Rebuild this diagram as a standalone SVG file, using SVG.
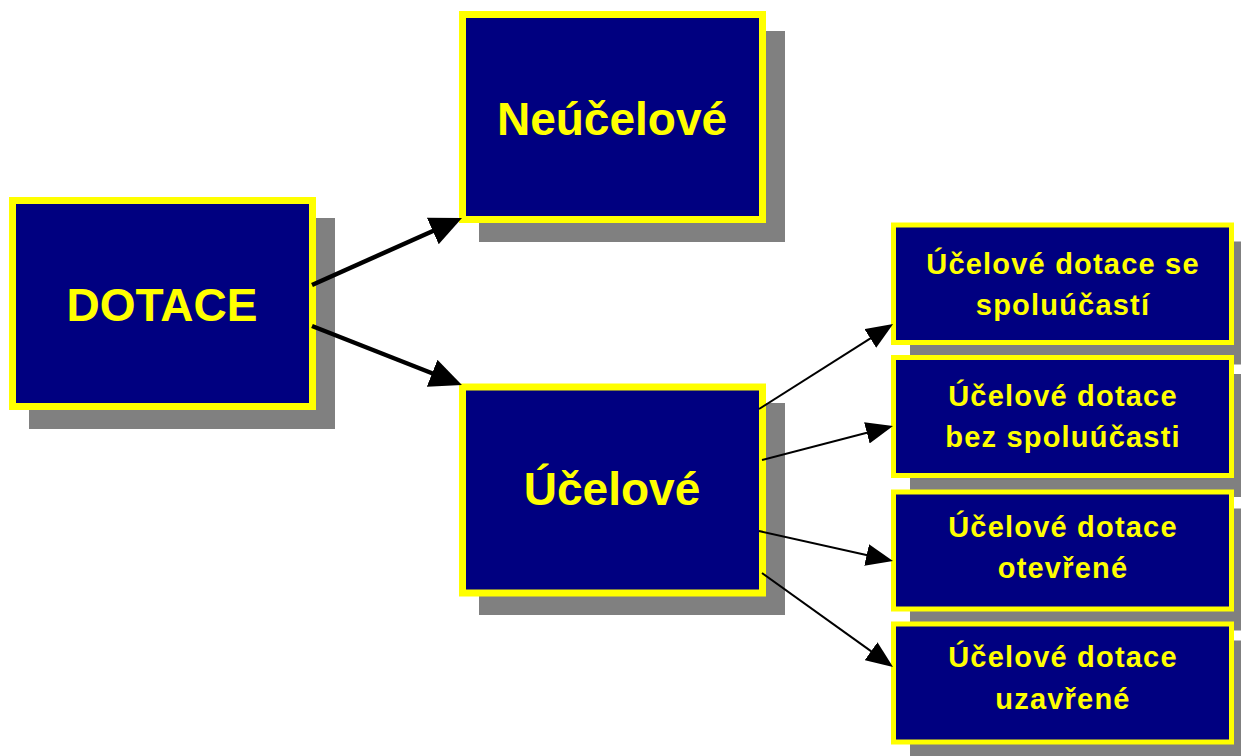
<svg xmlns="http://www.w3.org/2000/svg" width="1241" height="756" viewBox="0 0 1241 756">
  <style>
    .shadow { fill: #808080; }
    .big { fill: #000080; stroke: #FFFF00; stroke-width: 7; }
    .small { fill: #000080; stroke: #FFFF00; stroke-width: 5; }
    .t-big { font-family: "Liberation Sans", Arial, sans-serif; font-weight: bold; font-size: 46px; fill: #FFFF00; text-anchor: middle; }
    .t-small { font-family: "Liberation Sans", Arial, sans-serif; font-weight: bold; font-size: 29px; letter-spacing: 1.2px; fill: #FFFF00; text-anchor: middle; }
    .thick { stroke: #000; stroke-width: 4.5; fill: none; marker-end: url(#headBig); }
    .thin { stroke: #000; stroke-width: 2; fill: none; marker-end: url(#headSmall); }
  </style>
  <defs>
    <marker id="headBig" markerUnits="userSpaceOnUse" viewBox="0 -15 32 30" markerWidth="32" markerHeight="30" refX="2" refY="0" orient="auto">
      <path d="M0,-14.5 L32,0 L0,14.5 z" fill="#000"/>
    </marker>
    <marker id="headSmall" markerUnits="userSpaceOnUse" viewBox="0 -11 27 22" markerWidth="27" markerHeight="22" refX="2" refY="0" orient="auto">
      <path d="M0,-11 L27,0 L0,11 z" fill="#000"/>
    </marker>
  </defs>
  <rect width="1241" height="756" fill="#FFFFFF"/>

  <g id="dotace">
    <rect class="shadow" x="29" y="218" width="306" height="211"/>
    <rect class="big" x="12.5" y="200.5" width="300" height="206"/>
    <text class="t-big" x="162" y="320.5">DOTACE</text>
  </g>

  <g id="neucelove">
    <rect class="shadow" x="479" y="31" width="306" height="211"/>
    <rect class="big" x="462.5" y="14.5" width="300" height="205"/>
    <text class="t-big" x="612" y="135">Neúčelové</text>
  </g>

  <g id="ucelove">
    <rect class="shadow" x="479" y="403" width="306" height="212"/>
    <rect class="big" x="462.5" y="387" width="300" height="206"/>
    <text class="t-big" x="612" y="505">Účelové</text>
  </g>

  <g id="se-spoluucasti">
    <rect class="shadow" x="910" y="241.5" width="343" height="123"/>
    <rect class="small" x="893.5" y="225" width="338" height="117.5"/>
    <text class="t-small" x="1063" y="274.3">Účelové dotace se</text>
    <text class="t-small" x="1063" y="315">spoluúčastí</text>
  </g>

  <g id="bez-spoluucasti">
    <rect class="shadow" x="910" y="374" width="343" height="123"/>
    <rect class="small" x="893.5" y="357.5" width="338" height="118"/>
    <text class="t-small" x="1063" y="405.7">Účelové dotace</text>
    <text class="t-small" x="1063" y="446.7">bez spoluúčasti</text>
  </g>

  <g id="otevrene">
    <rect class="shadow" x="910" y="508.5" width="343" height="122"/>
    <rect class="small" x="893.5" y="492" width="338" height="117"/>
    <text class="t-small" x="1063" y="536.7">Účelové dotace</text>
    <text class="t-small" x="1063" y="578.3">otevřené</text>
  </g>

  <g id="uzavrene">
    <rect class="shadow" x="910" y="640.5" width="343" height="123"/>
    <rect class="small" x="893.5" y="624" width="338" height="118"/>
    <text class="t-small" x="1063" y="666.7">Účelové dotace</text>
    <text class="t-small" x="1063" y="709.3">uzavřené</text>
  </g>

  <g id="connectors">
    <path class="thick" d="M312,285 L434.6,230.2"/>
    <path class="thick" d="M312,326 L434,374"/>
    <path class="thin" d="M759,409 L872,337.4"/>
    <path class="thin" d="M762,460 L868.8,432.3"/>
    <path class="thin" d="M759,531 L868.6,555.5"/>
    <path class="thin" d="M762,573 L872.7,652.4"/>
  </g>
</svg>
